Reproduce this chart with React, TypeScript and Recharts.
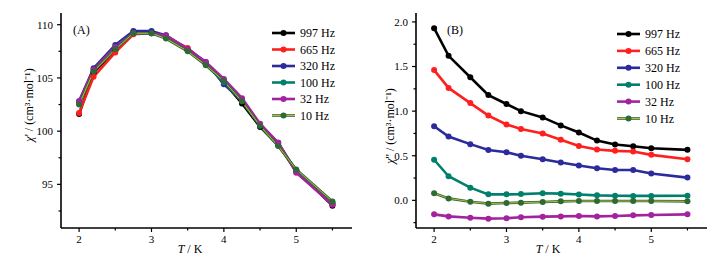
import React from 'react';
import { LineChart, Line, XAxis, YAxis, Legend } from 'recharts';

const temperatures = [2, 2.2, 2.5, 2.75, 3, 3.2, 3.5, 3.75, 4, 4.25, 4.5, 4.75, 5, 5.5];

const seriesNames = ['997 Hz', '665 Hz', '320 Hz', '100 Hz', '32 Hz', '10 Hz'];
const seriesColors = ['#000000', '#ff1f1f', '#2b2b9c', '#00806c', '#a3239f', '#2f6a32'];
const innerColor10 = '#c9c244';

// chi' (panel A)
const realHz997 = [101.6, 105.5, 107.6, 109.3, 109.3, 108.9, 107.6, 106.3, 104.6, 102.6, 100.4, 98.7, 96.3, 93.0];
const realHz665 = [101.7, 105.1, 107.4, 109.1, 109.2, 108.9, 107.8, 106.4, 104.8, 103.0, 100.6, 98.9, 96.2, 93.1];
const realHz320 = [102.8, 105.9, 108.1, 109.4, 109.4, 109.0, 107.7, 106.5, 104.4, 102.9, 100.5, 98.9, 96.2, 93.2];
const realHz100 = [102.6, 105.7, 107.9, 109.2, 109.2, 108.8, 107.6, 106.3, 104.6, 102.8, 100.6, 98.7, 96.3, 93.3];
const realHz32 = [102.8, 105.8, 107.9, 109.2, 109.2, 109.0, 107.7, 106.5, 104.9, 103.1, 100.7, 98.9, 96.1, 93.1];
const realHz10 = [102.5, 105.6, 107.7, 109.2, 109.2, 108.7, 107.5, 106.2, 104.7, 102.8, 100.5, 98.6, 96.4, 93.4];

// chi'' (panel B)
const imagHz997 = [1.93, 1.62, 1.38, 1.18, 1.08, 1.0, 0.93, 0.84, 0.76, 0.67, 0.625, 0.607, 0.584, 0.566];
const imagHz665 = [1.46, 1.26, 1.09, 0.95, 0.85, 0.8, 0.75, 0.68, 0.61, 0.57, 0.555, 0.547, 0.51, 0.46];
const imagHz320 = [0.83, 0.715, 0.63, 0.565, 0.54, 0.5, 0.46, 0.425, 0.39, 0.36, 0.34, 0.34, 0.3, 0.255];
const imagHz100 = [0.455, 0.27, 0.142, 0.067, 0.067, 0.07, 0.08, 0.075, 0.065, 0.056, 0.052, 0.05, 0.05, 0.052];
const imagHz32 = [-0.157, -0.18, -0.195, -0.205, -0.2, -0.19, -0.183, -0.18, -0.176, -0.18, -0.176, -0.168, -0.165, -0.157];
const imagHz10 = [0.079, 0.022, -0.015, -0.037, -0.03, -0.026, -0.019, -0.011, -0.008, -0.008, -0.008, -0.008, -0.008, -0.011];

const xTicks = [2, 2.5, 3, 3.5, 4, 4.5, 5, 5.5];
const xMajor = [2, 3, 4, 5];
const yTicksA = [92.5, 95, 97.5, 100, 102.5, 105, 107.5, 110];
const yMajorA = [95, 100, 105, 110];
const yTicksB = [-0.25, 0, 0.25, 0.5, 0.75, 1, 1.25, 1.5, 1.75, 2];
const yMajorB = [0, 0.5, 1, 1.5, 2];

const keys = ['s0', 's1', 's2', 's3', 's4', 's5'];

const buildRows = (series: number[][]) =>
  temperatures.map((t, i) => {
    const row: Record<string, number> = { t };
    series.forEach((s, k) => {
      row[keys[k]] = s[i];
    });
    return row;
  });

const dataA = buildRows([realHz997, realHz665, realHz320, realHz100, realHz32, realHz10]);
const dataB = buildRows([imagHz997, imagHz665, imagHz320, imagHz100, imagHz32, imagHz10]);

const FONT = '"Liberation Serif", "Times New Roman", serif';

const makeYTick = (major: number[], fmt: (v: number) => string) => (props: any) => {
  const { x, y, payload } = props;
  const v = payload.value;
  const isMajor = major.some((m) => Math.abs(m - v) < 1e-6);
  const ax = x + 8;
  return (
    <g>
      <line x1={ax - (isMajor ? 4 : 2.5)} x2={ax} y1={y} y2={y} stroke="#000" strokeWidth={1.2} />
      {isMajor && (
        <text x={x} y={y} dy="0.355em" textAnchor="end" fontFamily={FONT} fontSize={11} fill="#000">
          {fmt(v)}
        </text>
      )}
    </g>
  );
};

const XTick = (props: any) => {
  const { x, y, payload } = props;
  const v = payload.value;
  const isMajor = xMajor.some((m) => Math.abs(m - v) < 1e-6);
  const ay = y - 7;
  return (
    <g>
      <line x1={x} x2={x} y1={ay} y2={ay + (isMajor ? 4 : 2.5)} stroke="#000" strokeWidth={1.2} />
      {isMajor && (
        <text x={x} y={y} dy="0.71em" textAnchor="middle" fontFamily={FONT} fontSize={11} fill="#000">
          {String(v)}
        </text>
      )}
    </g>
  );
};

const LegendBox = ({ spacing }: { spacing: number }) => (
  <svg width={90} height={spacing * 6 + 4} style={{ display: 'block' }}>
    {seriesNames.map((name, i) => {
      const cy = 8 + i * spacing;
      return (
        <g key={name}>
          <line x1={0} x2={23} y1={cy} y2={cy} stroke={seriesColors[i]} strokeWidth={2.6} />
          {i === 5 && <line x1={0} x2={23} y1={cy} y2={cy} stroke={innerColor10} strokeWidth={0.9} />}
          <circle cx={11.5} cy={cy} r={3} fill={seriesColors[i]} />
          <text x={28} y={cy} dy="0.35em" fontFamily={FONT} fontSize={12} fill="#000">
            {name}
          </text>
        </g>
      );
    })}
  </svg>
);

const renderLines = () => {
  const out: React.ReactNode[] = [];
  keys.forEach((k, i) => {
    out.push(
      <Line
        key={k}
        dataKey={k}
        name={seriesNames[i]}
        stroke={seriesColors[i]}
        strokeWidth={2.6}
        dot={{ r: 3, fill: seriesColors[i], stroke: seriesColors[i], strokeWidth: 0 }}
        activeDot={false}
        isAnimationActive={false}
      />
    );
  });
  out.push(
    <Line
      key="inner10"
      dataKey="s5"
      stroke={innerColor10}
      strokeWidth={0.9}
      dot={false}
      activeDot={false}
      legendType="none"
      isAnimationActive={false}
    />
  );
  return out;
};

const axisLineStyle = { stroke: '#000', strokeWidth: 1.6 };

const Panel = ({
  data,
  domain,
  yTicks,
  yTick,
  margin,
  legendLeft,
  legendTop,
  legendSpacing,
}: any) => (
  <LineChart width={360} height={261} data={data} margin={margin}>
    <XAxis
      dataKey="t"
      type="number"
      domain={[1.75, 5.77]}
      ticks={xTicks}
      interval={0}
      tickSize={4}
      tickMargin={3}
      tickLine={false}
      axisLine={axisLineStyle}
      tick={<XTick />}
      height={30}
      allowDataOverflow
    />
    <YAxis
      type="number"
      domain={domain}
      ticks={yTicks}
      interval={0}
      tickSize={4}
      tickMargin={4}
      tickLine={false}
      axisLine={axisLineStyle}
      tick={yTick}
      width={45}
      allowDataOverflow
    />
    <Legend
      layout="vertical"
      align="center"
      verticalAlign="middle"
      wrapperStyle={{ left: legendLeft, top: legendTop, width: 90 }}
      content={() => <LegendBox spacing={legendSpacing} />}
    />
    {renderLines()}
  </LineChart>
);

const textBase: React.CSSProperties = {
  position: 'absolute',
  fontFamily: FONT,
  fontSize: 12,
  color: '#000',
  whiteSpace: 'nowrap',
  lineHeight: '14px',
};

export default function App() {
  return (
    <div style={{ position: 'absolute', left: 0, top: 0, width: 717, height: 261, background: '#fff', overflow: 'hidden' }}>
      <div style={{ position: 'absolute', left: 0, top: 0 }}>
        <Panel
          data={dataA}
          domain={[90.9, 111.1]}
          yTicks={yTicksA}
          yTick={makeYTick(yMajorA, (v) => String(v))}
          margin={{ top: 13, right: 8, bottom: 3, left: 16 }}
          legendLeft={272}
          legendTop={25}
          legendSpacing={16.5}
        />
      </div>
      <div style={{ position: 'absolute', left: 357, top: 0 }}>
        <Panel
          data={dataB}
          domain={[-0.31, 2.1]}
          yTicks={yTicksB}
          yTick={makeYTick(yMajorB, (v) => v.toFixed(1))}
          margin={{ top: 13, right: 10, bottom: 3, left: 14 }}
          legendLeft={260}
          legendTop={26}
          legendSpacing={16.9}
        />
      </div>

      <div style={{ ...textBase, left: 73, top: 23 }}>(A)</div>
      <div style={{ ...textBase, left: 447, top: 23 }}>(B)</div>

      <div style={{ ...textBase, left: 190, top: 242, transform: 'translateX(-50%)' }}>
        <i>T</i> / K
      </div>
      <div style={{ ...textBase, left: 548, top: 242, transform: 'translateX(-50%)' }}>
        <i>T</i> / K
      </div>

      <div style={{ ...textBase, left: 29, top: 105, transform: 'translate(-50%, -50%) rotate(-90deg)' }}>
        <i>χ</i>' / (cm³·mol⁻¹)
      </div>
      <div style={{ ...textBase, left: 390, top: 126, transform: 'translate(-50%, -50%) rotate(-90deg)' }}>
        <i>χ</i>'' / (cm³·mol⁻¹)
      </div>
    </div>
  );
}
